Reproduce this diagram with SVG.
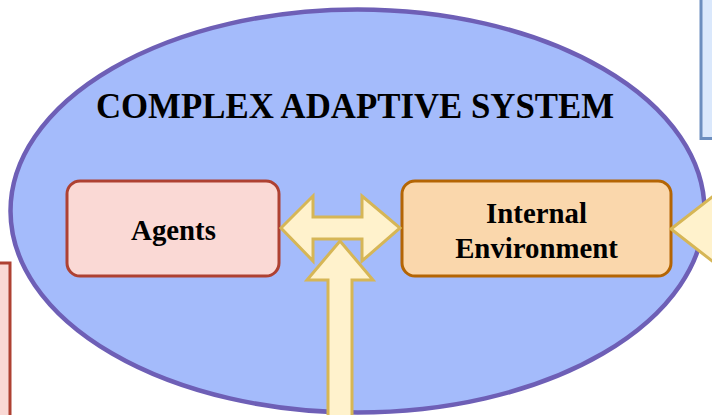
<svg xmlns="http://www.w3.org/2000/svg" width="712" height="415" viewBox="0 0 712 415">
  <style>
    .lbl { font-family: "Liberation Serif", "Times New Roman", serif; font-weight: bold; fill: #000; text-anchor: middle; }
    .arrow { fill: #fff2cc; stroke: #d6b656; stroke-width: 3; stroke-linejoin: miter; }
  </style>
  <rect width="712" height="415" fill="#ffffff"/>
  <g id="left-box">
    <rect x="-100" y="263" width="110" height="300" fill="#fad9d5" stroke="#ae4132" stroke-width="3"/>
  </g>
  <g id="right-box">
    <rect x="701" y="-50" width="100" height="188.5" fill="#dae8fc" stroke="#6c8ebf" stroke-width="3"/>
  </g>
  <g id="cas">
    <ellipse cx="357.5" cy="211" rx="347" ry="201.5" fill="#a4bbfb" stroke="#6e5fb6" stroke-width="4.5"/>
    <text class="lbl" x="355" y="118" font-size="34.8">COMPLEX ADAPTIVE SYSTEM</text>
  </g>
  <g id="agents">
    <rect x="67" y="181" width="212" height="95" rx="13" fill="#fad9d5" stroke="#ae4132" stroke-width="3"/>
    <text class="lbl" x="173.5" y="240" font-size="28.8">Agents</text>
  </g>
  <g id="internal-environment">
    <rect x="402" y="181" width="269" height="95" rx="13" fill="#fad7ac" stroke="#b46504" stroke-width="3"/>
    <text class="lbl" x="536.5" y="223" font-size="28.8">Internal</text>
    <text class="lbl" x="536.5" y="258" font-size="28.8">Environment</text>
  </g>
  <g id="connectors">
    <polygon class="arrow" points="281,228 313,196 313,217 362,217 362,196 400,228 362,261 362,239 313,239 313,261"/>
    <polygon class="arrow" points="340,241 373,280 352,280 352,430 328,430 328,280 307,280"/>
    <polygon class="arrow" points="671,229 716,194 716,264"/>
  </g>
</svg>
